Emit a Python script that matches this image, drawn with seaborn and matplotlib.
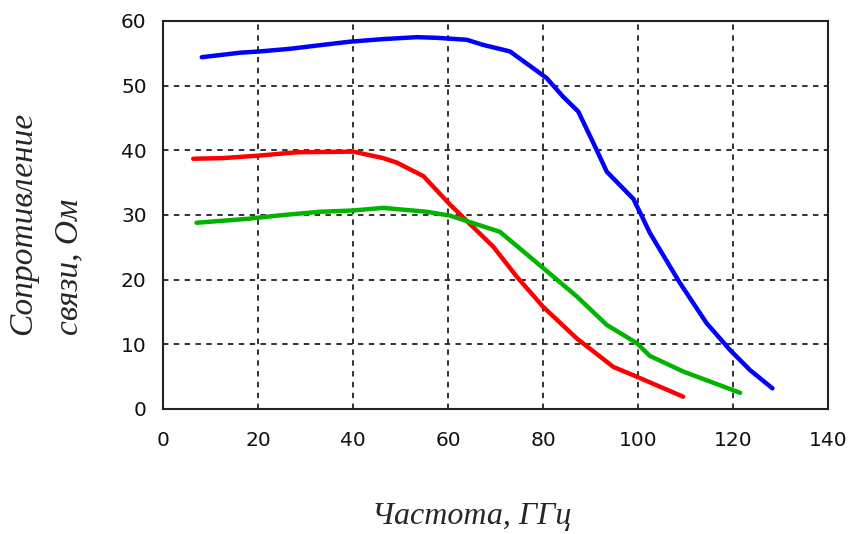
import numpy as np
import pandas as pd
import matplotlib
matplotlib.use("Agg")
import matplotlib.pyplot as plt
import seaborn as sns

# data (frequency in GHz, resistance in Ohm)
blue_x = [8.1, 16.2, 20.4, 26.7, 32.3, 39.3, 46.3, 53.4, 57.6, 63.9, 67.4, 73.0,
          77.9, 80.7, 84.2, 87.4, 90.6, 93.4, 99.0, 100.8, 102.5, 108.8, 114.4, 119.4, 123.6, 128.3]
blue_y = [54.4, 55.1, 55.3, 55.7, 56.2, 56.8, 57.2, 57.5, 57.4, 57.1, 56.3, 55.3,
          52.7, 51.2, 48.3, 46.0, 41.1, 36.7, 32.5, 29.8, 27.2, 19.5, 13.3, 9.1, 6.0, 3.2]

red_x = [6.3, 12.6, 20.4, 28.1, 40.0, 46.3, 49.2, 54.8, 60.4, 66.0, 69.5, 74.4,
         80.0, 87.1, 94.8, 99.7, 109.5]
red_y = [38.7, 38.8, 39.2, 39.7, 39.8, 38.8, 38.1, 36.0, 31.6, 27.6, 25.1, 20.5,
         15.8, 10.9, 6.5, 5.0, 1.9]

green_x = [7.0, 17.6, 25.3, 33.0, 40.0, 46.3, 55.5, 60.4, 70.9, 80.0, 87.1, 93.4,
           99.7, 102.5, 109.5, 121.5]
green_y = [28.8, 29.4, 30.0, 30.5, 30.7, 31.1, 30.5, 29.9, 27.4, 21.8, 17.4, 13.0,
           10.2, 8.2, 5.8, 2.5]

x_ticks = [0, 20, 40, 60, 80, 100, 120, 140]
y_ticks = [0, 10, 20, 30, 40, 50, 60]

sns.set_style("white")
plt.rcParams['font.family'] = ['DejaVu Sans']

fig = plt.figure(figsize=(8.51, 5.34), dpi=100)
ax = fig.add_axes([163.3 / 851, 1 - 409 / 534, (828 - 163.3) / 851, (409 - 21) / 534])

series = [(blue_x, blue_y, "#0000ff"), (red_x, red_y, "#ff0000"), (green_x, green_y, "#00b400")]
for xs, ys, col in series:
    d = pd.DataFrame({"x": xs, "y": ys})
    sns.lineplot(data=d, x="x", y="y", color=col, linewidth=3.2, ax=ax, sort=False)

ax.set_xlim(0, 140)
ax.set_ylim(0, 60)
ax.set_xticks(x_ticks)
ax.set_yticks(y_ticks)
ax.grid(True, color="#222222", linestyle=(0, (3, 3)), linewidth=1.3)
ax.set_axisbelow(True)
for s in ax.spines.values():
    s.set_color("#222222")
    s.set_linewidth(1.5)
    s.set_visible(True)
ax.tick_params(direction="inout", length=8, width=1.3, color="#222222",
               labelsize=14.5, labelcolor="#111111")
ax.tick_params(axis="x", pad=12)
ax.tick_params(axis="y", pad=8)
ax.set_xlabel("")
ax.set_ylabel("")

fig.text(472 / 851, 1 - 502 / 534, "Частота, ГГц", ha="center", va="top",
         family="Liberation Serif", style="italic", fontsize=23)
fig.text(46 / 851, 1 - 335 / 534, "Сопротивление\nсвязи, Ом", rotation=90,
         ha="center", va="bottom", multialignment="left", linespacing=1.7,
         family="Liberation Serif", style="italic", fontsize=24)

fig.savefig("out.png", dpi=100)
